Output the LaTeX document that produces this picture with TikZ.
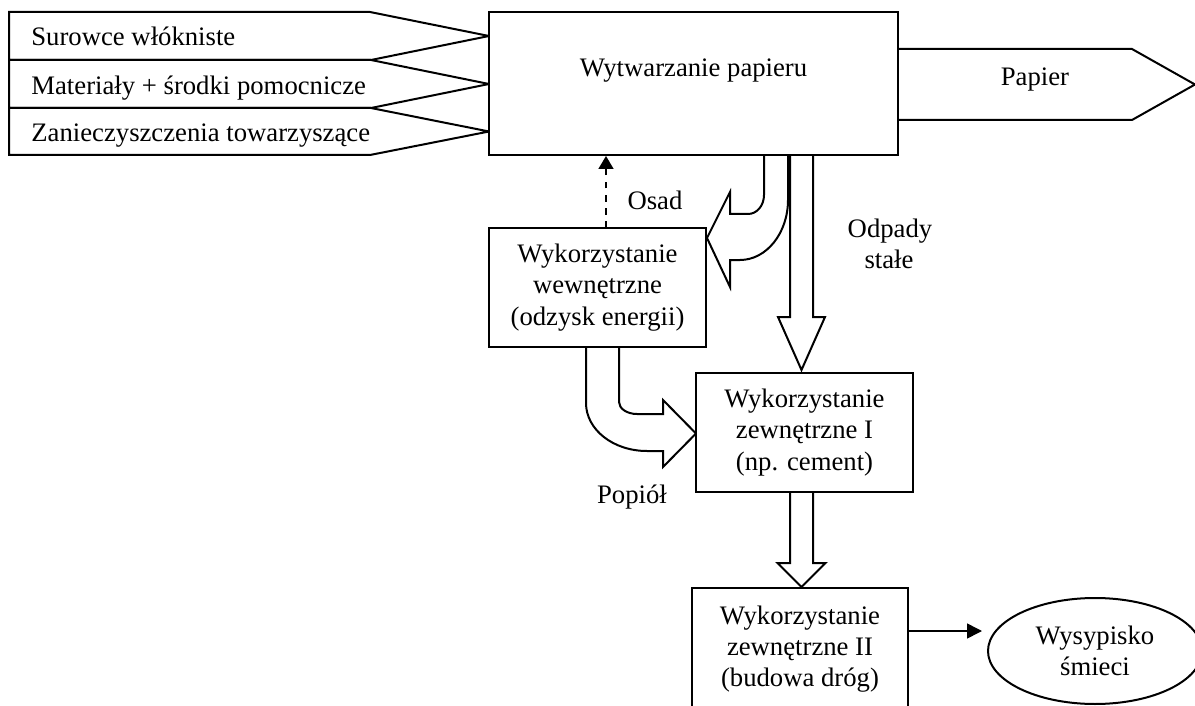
\documentclass[tikz,border=0pt]{standalone}
\usepackage{fontspec}
\setmainfont{Liberation Serif}
\usetikzlibrary{arrows.meta,shapes.geometric}

\tikzset{
  txt/.style={font=\fontsize{13.35pt}{15.6pt}\selectfont, inner sep=0pt},
  box/.style={txt, draw, line width=1pt, fill=white, align=center, rectangle},
  bandarrow/.style={draw, line width=1pt, fill=white, line join=miter},
  fatarrow/.style={draw, line width=1pt, fill=white, line join=miter},
  thinarrow/.style={line width=0.8pt, -{Triangle[length=7.5pt,width=7.5pt]}},
  dasharrow/.style={line width=0.8pt, dash pattern=on 3.3pt off 3.3pt,
    -{Triangle[length=6.5pt,width=7.5pt]}},
}

\begin{document}
\begin{tikzpicture}[x=0.5pt,y=-0.5pt]
\useasboundingbox (0,0) rectangle (1195,706);
\clip (0,0) rectangle (1195,706);

% input streams
\draw[bandarrow] (9,12) -- (370,12) -- (489,36) -- (371,60) -- (9,60) -- cycle;
\draw[bandarrow] (9,60) -- (371,60) -- (489,84) -- (371,108) -- (9,108) -- cycle;
\draw[bandarrow] (9,108) -- (371,108) -- (489,131.5) -- (370,155) -- (9,155) -- cycle;
\node[txt, anchor=base west] (in1) at (31,46) {Surowce włókniste};
\node[txt, anchor=base west] (in2) at (31,95) {Materiały + środki pomocnicze};
\node[txt, anchor=base west] (in3) at (31,142) {Zanieczyszczenia towarzyszące};

% output stream
\draw[bandarrow] (898,49) -- (1132,49) -- (1195,84.5) -- (1132,120) -- (898,120);
\node[txt, anchor=base] (papier) at (1035,86) {Papier};

% sludge: curved block arrow into internal use
\draw[fatarrow] (764,150) -- (764,195) .. controls (764,205.5) and (757,214) .. (748,214)
  -- (730,214) -- (730,192) -- (707,238) -- (730,287) -- (730,260) -- (740,260)
  .. controls (766.5,260) and (788,233) .. (788,200) -- (788,150);
\node[txt, anchor=base] (osad) at (655,210) {Osad};

% solid waste: straight block arrow
\draw[fatarrow] (790,150) -- (790,317) -- (778,317) -- (801.5,370) -- (825,317)
  -- (813,317) -- (813,150);
\node[txt, anchor=base] (odpady) at (890,237) {Odpady};
\node[txt, anchor=base] (stale) at (889,268) {stałe};

% ash: curved block arrow into external use I
\draw[fatarrow] (619,342) -- (619,402) .. controls (619,408.6) and (627,414) .. (637,414)
  -- (663,414) -- (663,400) -- (696,433.5) -- (663,467) -- (663,451) -- (647,451)
  .. controls (613,451) and (586,429.5) .. (586,403) -- (586,342);
\node[txt, anchor=base] (popiol) at (632,503) {Popiół};

% external use I -> external use II
\draw[fatarrow] (790,487) -- (790,563) -- (777.5,563) -- (801.5,587) -- (825.5,563)
  -- (813,563) -- (813,487);

% main process
\node[box, minimum width=204.5pt, minimum height=71.5pt] (main) at (693.5,83.5) {};
\node[txt, anchor=base] (mainlbl) at (693.5,77) {Wytwarzanie papieru};

% utilisation boxes
\node[box, minimum width=108.5pt, minimum height=59.5pt] (wew) at (597.5,287.5)
  {Wykorzystanie\\wewnętrzne\\(odzysk energii)};
\node[box, minimum width=108.5pt, minimum height=59.5pt] (zew1) at (804.5,432.5)
  {Wykorzystanie\\zewnętrzne I\\(np. cement)};
\node[box, minimum width=108pt, minimum height=61pt] (zew2) at (800,649)
  {Wykorzystanie\\zewnętrzne II\\(budowa dróg)};
\node[txt, draw, line width=1pt, ellipse, minimum width=107pt, minimum height=53pt,
  align=center] (wys) at (1095,651) {Wysypisko\\śmieci};

% recovered energy back to production
\coordinate (dsh) at (606,228);
\draw[dasharrow] (dsh) -- (dsh |- main.south);

% landfill
\coordinate (wysin) at (982,631);
\draw[thinarrow] (zew2.east |- wysin) -- (wysin);
\end{tikzpicture}
\end{document}
